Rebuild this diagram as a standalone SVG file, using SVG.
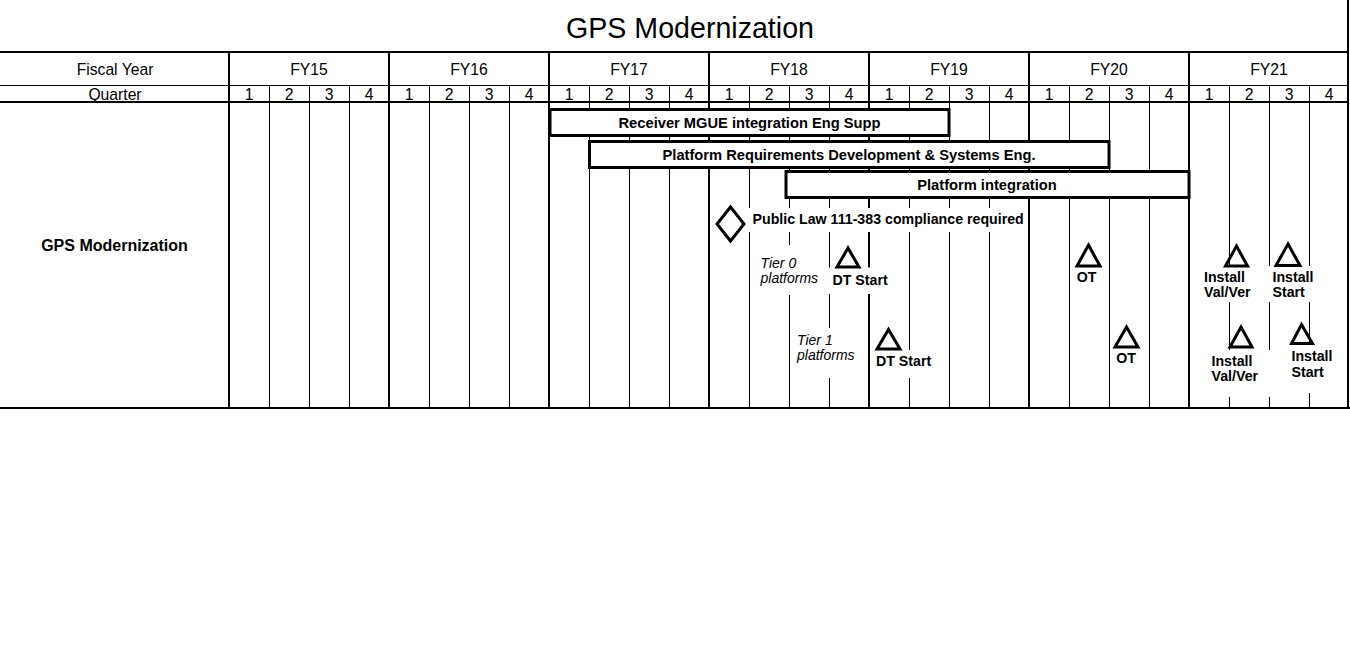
<svg xmlns="http://www.w3.org/2000/svg" width="1350" height="648" viewBox="0 0 1350 648">
<style>
text{font-family:"Liberation Sans",Arial,sans-serif;fill:#000}
.title{font-size:28.6px;text-anchor:middle}
.hdr{font-size:15.7px;text-anchor:middle}
.q{font-size:15.7px;text-anchor:middle}
.row{font-size:16px;font-weight:bold;text-anchor:middle}
.bar rect{fill:#fff;stroke:#000;stroke-width:3}
.bt{font-size:14.7px;font-weight:bold;text-anchor:middle}
.lbl{font-size:14.2px;font-weight:bold}
.mid{text-anchor:middle}
.tier{font-size:14px;font-style:italic}
.tri{fill:none;stroke:#000;stroke-width:3;stroke-linejoin:miter}
.ko{fill:#fff}
.thin{stroke:#000;stroke-width:1;fill:none}
.thick{stroke:#000;stroke-width:2;fill:none}
</style>
<rect width="1350" height="648" fill="#fff"/>
<g id="grid">
<path class="thin" d="M0 85.5H1348M269.5 85V408M309.5 85V408M349.5 85V408M429.5 85V408M469.5 85V408M509.5 85V408M589.5 85V408M629.5 85V408M669.5 85V408M749.5 85V408M789.5 85V408M829.5 85V408M909.5 85V408M949.5 85V408M989.5 85V408M1069.5 85V408M1109.5 85V408M1149.5 85V408M1229.5 85V408M1269.5 85V408M1309.5 85V408"/>
<path class="thick" d="M0 52H1349M0 102H1349M0 408H1350M229 52V409M389 52V409M549 52V409M709 52V409M869 52V409M1029 52V409M1189 52V409M1348 0V409"/>
</g>
<g id="header">
<text class="title" x="690" y="37.5">GPS Modernization</text>
<text class="hdr" x="115" y="75">Fiscal Year</text>
<text class="hdr" x="115" y="99.5">Quarter</text>
<text class="hdr" x="309" y="75">FY15</text>
<text class="hdr" x="469" y="75">FY16</text>
<text class="hdr" x="629" y="75">FY17</text>
<text class="hdr" x="789" y="75">FY18</text>
<text class="hdr" x="949" y="75">FY19</text>
<text class="hdr" x="1109" y="75">FY20</text>
<text class="hdr" x="1269" y="75">FY21</text>
<g class="q">
<text x="249" y="99.5">1</text><text x="289" y="99.5">2</text><text x="329" y="99.5">3</text><text x="369" y="99.5">4</text>
<text x="409" y="99.5">1</text><text x="449" y="99.5">2</text><text x="489" y="99.5">3</text><text x="529" y="99.5">4</text>
<text x="569" y="99.5">1</text><text x="609" y="99.5">2</text><text x="649" y="99.5">3</text><text x="689" y="99.5">4</text>
<text x="729" y="99.5">1</text><text x="769" y="99.5">2</text><text x="809" y="99.5">3</text><text x="849" y="99.5">4</text>
<text x="889" y="99.5">1</text><text x="929" y="99.5">2</text><text x="969" y="99.5">3</text><text x="1009" y="99.5">4</text>
<text x="1049" y="99.5">1</text><text x="1089" y="99.5">2</text><text x="1129" y="99.5">3</text><text x="1169" y="99.5">4</text>
<text x="1209" y="99.5">1</text><text x="1249" y="99.5">2</text><text x="1289" y="99.5">3</text><text x="1329" y="99.5">4</text>
</g>
<text class="row" x="114.5" y="250.5">GPS Modernization</text>
</g>
<g id="bar-receiver" class="bar">
<rect x="550" y="109.5" width="399" height="26"/>
<text class="bt" x="749.5" y="127.5">Receiver MGUE integration Eng Supp</text>
</g>
<g id="bar-requirements" class="bar">
<rect x="589.5" y="141.5" width="519.5" height="26"/>
<text class="bt" x="849" y="159.5">Platform Requirements Development &amp; Systems Eng.</text>
</g>
<g id="bar-integration" class="bar">
<rect x="786" y="171.5" width="403" height="26"/>
<text class="bt" x="987" y="189.5">Platform integration</text>
</g>
<g id="milestone-public-law">
<rect class="ko" x="746" y="208" width="281" height="24"/>
<path d="M730.5 207L744 224L730.5 241L717 224Z" fill="#fff" stroke="#000" stroke-width="3"/>
<text class="lbl" x="752.5" y="223.5">Public Law 111-383 compliance required</text>
</g>
<g id="label-tier0">
<rect class="ko" x="753" y="245" width="71" height="50"/>
<text class="tier" x="760.5" y="267.5">Tier 0</text>
<text class="tier" x="760.5" y="282.5">platforms</text>
</g>
<g id="milestone-dt-start-tier0">
<rect class="ko" x="827" y="267.5" width="64" height="26.5"/>
<path class="tri" d="M848 248L859 267H837Z"/>
<text class="lbl" x="832.5" y="284.5">DT Start</text>
</g>
<g id="milestone-ot-tier0">
<path class="tri" d="M1088.5 245L1100 266H1077Z"/>
<text class="lbl mid" x="1086.5" y="281.5">OT</text>
</g>
<g id="milestone-install-valver-tier0">
<rect class="ko" x="1200" y="266" width="57" height="36"/>
<path class="tri" d="M1236.5 246L1247.5 266H1225.5Z"/>
<text class="lbl" x="1204" y="281.5">Install</text>
<text class="lbl" x="1204" y="297">Val/Ver</text>
</g>
<g id="milestone-install-start-tier0">
<rect class="ko" x="1268" y="266" width="50" height="36"/>
<path class="tri" d="M1288 244L1300 265.5H1276Z"/>
<text class="lbl" x="1272.5" y="281.5">Install</text>
<text class="lbl" x="1272.5" y="297">Start</text>
</g>
<g id="label-tier1">
<rect class="ko" x="793" y="328" width="68" height="50"/>
<text class="tier" x="797" y="345">Tier 1</text>
<text class="tier" x="797" y="360">platforms</text>
</g>
<g id="milestone-dt-start-tier1">
<rect class="ko" x="872" y="350" width="62" height="28"/>
<path class="tri" d="M888.5 329.5L900 349H877Z"/>
<text class="lbl" x="876" y="365.5">DT Start</text>
</g>
<g id="milestone-ot-tier1">
<path class="tri" d="M1126.5 327L1138 347H1115Z"/>
<text class="lbl mid" x="1126" y="362.5">OT</text>
</g>
<g id="milestone-install-valver-tier1">
<rect class="ko" x="1208" y="350" width="63" height="47"/>
<path class="tri" d="M1241 327L1252 347H1230Z"/>
<text class="lbl" x="1211.5" y="365.5">Install</text>
<text class="lbl" x="1211.5" y="381">Val/Ver</text>
</g>
<g id="milestone-install-start-tier1">
<rect class="ko" x="1288" y="345" width="50" height="48"/>
<path class="tri" d="M1301.5 324.5L1312.5 343.5H1291.5Z"/>
<text class="lbl" x="1291.5" y="361">Install</text>
<text class="lbl" x="1291.5" y="376.5">Start</text>
</g>
</svg>
